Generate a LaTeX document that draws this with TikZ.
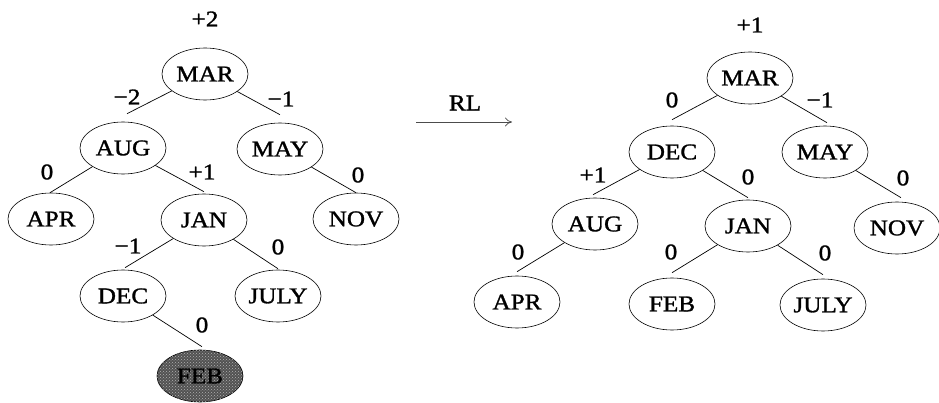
\documentclass[tikz,border=0pt]{standalone}
\usepackage{fontspec}
\setmainfont{Liberation Serif}[FakeStretch=1.12, FakeBold=1.3]
\usetikzlibrary{shapes.geometric,arrows.meta,patterns}

\tikzset{
  key/.style={ellipse, draw, line width=0.6pt, minimum width=86pt, minimum height=52pt,
              inner sep=0pt, font=\fontsize{22.5}{25}\selectfont},
  inserted/.style={key, fill=black!68, postaction={pattern=crosshatch dots, pattern color=white!70!black}},
  bal/.style={inner sep=0pt, font=\fontsize{22.5}{25}\selectfont},
  edge/.style={line width=0.7pt},
  rot/.style={line width=0.7pt, black!70, -{To[length=7pt,width=9pt]}}
}

\begin{document}
\begin{tikzpicture}[x=1pt, y=-1pt]
\useasboundingbox (0,0) rectangle (939,403);

% ---- tree before the rotation ----
\node[key] (lMAR)  at (205,74)  {MAR};
\node[key] (lAUG)  at (123,148) {AUG};
\node[key] (lMAY)  at (280,149) {MAY};
\node[key] (lAPR)  at (51,219)  {APR};
\node[key] (lJAN)  at (204,220) {JAN};
\node[key] (lNOV)  at (356,219) {NOV};
\node[key] (lDEC)  at (123,296) {DEC};
\node[key] (lJULY) at (278,296) {JULY};
\node[inserted] (lFEB) at (200,376) {FEB};

\draw[edge] (lMAR) -- ([xshift=4pt,yshift=8pt]lAUG.north);
\draw[edge] (lMAR) -- ([yshift=8pt]lMAY.north);
\draw[edge] (lAUG) -- ([xshift=-1pt]lAPR.north);
\draw[edge] (lAUG) -- ([yshift=2pt]lJAN.north);
\draw[edge] (lMAY) -- (lNOV.north);
\draw[edge] (lJAN) -- ([xshift=2pt,yshift=2pt]lDEC.north);
\draw[edge] (lJAN) -- ([yshift=1pt]lJULY.north);
\draw[edge] (lDEC) -- ([xshift=2pt,yshift=3pt]lFEB.north);

\node[bal] (lbMAR)  at (205,19)  {+2};
\node[bal] (lbAUG)  at (127,97)  {−2};
\node[bal] (lbMAY)  at (281,99)  {−1};
\node[bal] (lbAPR)  at (47,172)  {0};
\node[bal] (lbJAN)  at (202,172) {+1};
\node[bal] (lbNOV)  at (358,175) {0};
\node[bal] (lbDEC)  at (128,246) {−1};
\node[bal] (lbJULY) at (278,247) {0};
\node[bal] (lbFEB)  at (202,325) {0};

% ---- RL rotation ----
\coordinate (r0) at (416,122);
\coordinate (r1) at (512,122);
\draw[rot] (r0) -- (r1);
\node[bal] (RL) at (465,103) {RL};

% ---- tree after the rotation ----
\node[key] (rMAR)  at (750,78)  {MAR};
\node[key] (rDEC)  at (672,152) {DEC};
\node[key] (rMAY)  at (825,152) {MAY};
\node[key] (rAUG)  at (595,224) {AUG};
\node[key] (rJAN)  at (748,226) {JAN};
\node[key] (rNOV)  at (897,228) {NOV};
\node[key] (rAPR)  at (517,302) {APR};
\node[key] (rFEB)  at (672,304) {FEB};
\node[key] (rJULY) at (823,305) {JULY};

\draw[edge] (rMAR) -- ([yshift=6pt]rDEC.north);
\draw[edge] (rMAR) -- ([xshift=2pt,yshift=3pt]rMAY.north);
\draw[edge] (rDEC) -- ([xshift=-2pt,yshift=3pt]rAUG.north);
\draw[edge] (rDEC) -- ([yshift=2pt]rJAN.north);
\draw[edge] (rMAY) -- ([xshift=4pt,yshift=4pt]rNOV.north);
\draw[edge] (rAUG) -- ([yshift=4pt]rAPR.north);
\draw[edge] (rJAN) -- ([yshift=5pt]rFEB.north);
\draw[edge] (rJAN) -- ([yshift=4pt]rJULY.north);

\node[bal] (rbMAR)  at (750,25)  {+1};
\node[bal] (rbDEC)  at (672,100) {0};
\node[bal] (rbMAY)  at (820,100) {−1};
\node[bal] (rbAUG)  at (593,175) {+1};
\node[bal] (rbJAN)  at (748,177) {0};
\node[bal] (rbNOV)  at (903,178) {0};
\node[bal] (rbAPR)  at (518,252) {0};
\node[bal] (rbFEB)  at (671,252) {0};
\node[bal] (rbJULY) at (825,253) {0};
\end{tikzpicture}
\end{document}
